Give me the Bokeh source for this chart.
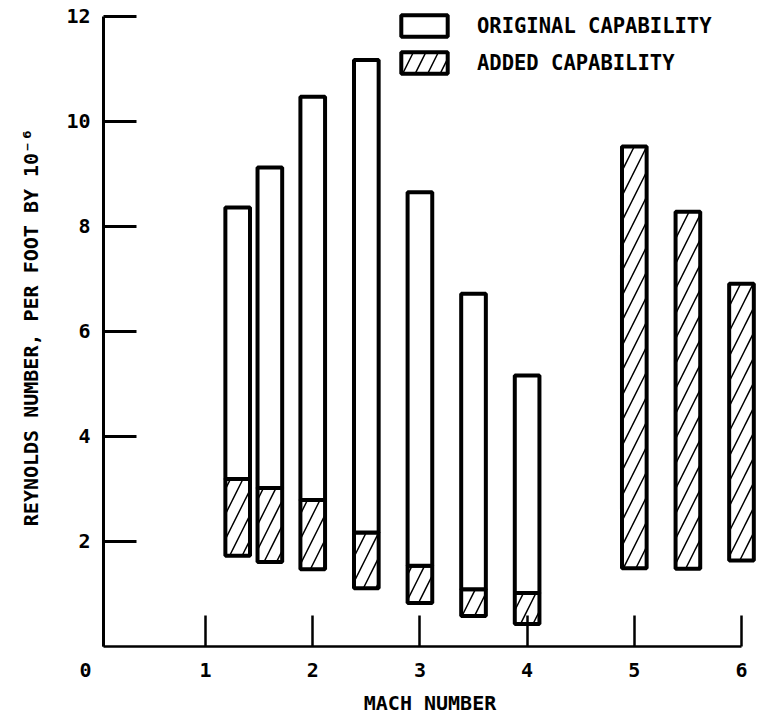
from bokeh.plotting import figure
from bokeh.models import Range1d, FixedTicker, Legend, LegendItem, ColumnDataSource
from bokeh.embed import file_html
from bokeh.resources import INLINE

# ---- data ----
orig_mach = [1.3, 1.6, 2.0, 2.5, 3.0, 3.5, 4.0]
orig_low = [3.19, 3.02, 2.79, 2.17, 1.54, 1.09, 1.02]
orig_high = [8.36, 9.12, 10.47, 11.17, 8.65, 6.72, 5.16]

added_mach = [1.3, 1.6, 2.0, 2.5, 3.0, 3.5, 4.0, 5.0, 5.5, 6.0]
added_low = [1.73, 1.61, 1.47, 1.11, 0.83, 0.58, 0.43, 1.49, 1.48, 1.64]
added_high = [3.19, 3.02, 2.79, 2.17, 1.54, 1.09, 1.02, 9.52, 8.28, 6.91]

X_START = 0.048
x_ticks = [X_START, 1, 2, 3, 4, 5, 6]
x_tick_labels = {X_START: "0\u00a0\u00a0\u00a0", 1: "1", 2: "2", 3: "3", 4: "4", 5: "5", 6: "6"}
y_ticks = [2, 4, 6, 8, 10, 12]

FONT = "DejaVu Sans Mono"
FS = "20px"

p = figure(frame_width=653, frame_height=638,
           x_range=Range1d(X_START, 6.14), y_range=Range1d(0, 12.15),
           output_backend="svg", toolbar_location=None,
           min_border_left=103, min_border_right=0, min_border_top=8, min_border_bottom=0)
p.outline_line_color = None
p.xgrid.visible = False
p.ygrid.visible = False
p.background_fill_color = "white"
p.border_fill_color = "white"

src_o = ColumnDataSource(dict(x=orig_mach, bottom=orig_low, top=orig_high))
src_a = ColumnDataSource(dict(x=added_mach, bottom=added_low, top=added_high))

r_add = p.vbar(x="x", width=0.23, bottom="bottom", top="top", source=src_a,
               fill_color="white", line_color="black", line_width=4,
               hatch_pattern="/", hatch_scale=25, hatch_weight=1.5, hatch_color="black")
r_orig = p.vbar(x="x", width=0.23, bottom="bottom", top="top", source=src_o,
                fill_color="white", line_color="black", line_width=4)

# axes
xa = p.xaxis[0]
xa.ticker = FixedTicker(ticks=x_ticks)
xa.major_label_overrides = x_tick_labels
xa.bounds = (X_START, 6.0)
xa.axis_label = "MACH NUMBER"
xa.major_tick_in = 31
xa.major_tick_out = 0
xa.minor_tick_in = 0
xa.minor_tick_out = 0
xa.axis_line_width = 2.5
xa.major_tick_line_width = 2.5
xa.major_label_standoff = 11
xa.axis_label_standoff = 6

ya = p.yaxis[0]
ya.ticker = FixedTicker(ticks=y_ticks)
ya.bounds = (0, 12)
ya.axis_label = "REYNOLDS NUMBER, PER FOOT BY 10\u207b\u2076"
ya.major_tick_in = 33
ya.major_tick_out = 0
ya.minor_tick_in = 0
ya.minor_tick_out = 0
ya.axis_line_width = 3
ya.major_tick_line_width = 3
ya.major_label_standoff = 13
ya.axis_label_standoff = 20

for ax in (xa, ya):
    ax.axis_line_color = "black"
    ax.major_tick_line_color = "black"
    ax.major_label_text_font = FONT
    ax.major_label_text_font_size = FS
    ax.major_label_text_font_style = "bold"
    ax.major_label_text_color = "black"
    ax.axis_label_text_font = FONT
    ax.axis_label_text_font_size = FS
    ax.axis_label_text_font_style = "bold"
    ax.axis_label_text_color = "black"

legend = Legend(items=[LegendItem(label="ORIGINAL CAPABILITY", renderers=[r_orig]),
                       LegendItem(label="ADDED CAPABILITY", renderers=[r_add])],
                location=(292, 570), orientation="vertical",
                glyph_width=58, glyph_height=27, label_height=27, spacing=10,
                padding=0, margin=0, border_line_color=None, background_fill_alpha=0,
                label_standoff=24, label_text_font=FONT, label_text_font_size="20.5px",
                label_text_font_style="bold", label_text_color="black")
p.add_layout(legend)

open("out.html", "w").write(file_html(p, INLINE))
